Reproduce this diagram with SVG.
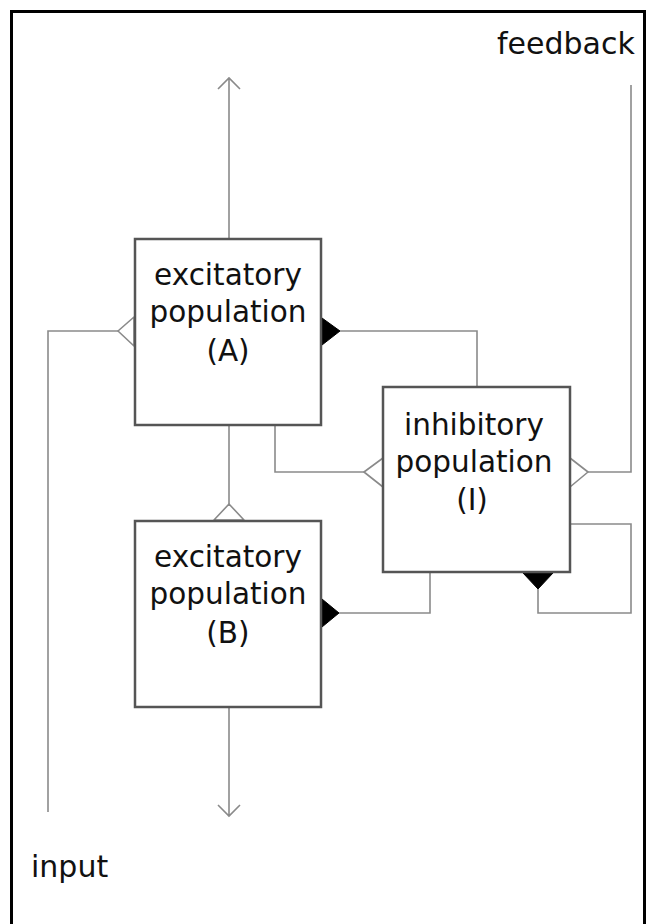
<svg xmlns="http://www.w3.org/2000/svg" width="649" height="924" viewBox="0 0 649 924">
<style>
.box{fill:#fff;stroke:#555;stroke-width:2.5}
.wire{fill:none;stroke:#8a8a8a;stroke-width:1.6}
.open{fill:#fff;stroke:#8a8a8a;stroke-width:1.6;stroke-linejoin:round}
.fill{fill:#000;stroke:#000;stroke-width:1}
.lbl{font-family:"DejaVu Sans",sans-serif;font-size:29.5px;fill:#111;text-anchor:middle}
.tag{font-family:"DejaVu Sans",sans-serif;font-size:30px;fill:#111}
</style>
<rect x="0" y="0" width="649" height="924" fill="#fff"/>
<rect x="11.5" y="11.5" width="633" height="930" fill="none" stroke="#000" stroke-width="3"/>
<g id="connectors">
<path class="wire" d="M229,238 V79 M218,89 L229,78 L240,89"/>
<path class="wire" d="M229,707 V816 M218,805 L229,816 L240,805"/>
<path class="wire" d="M48,812 V331 H118"/>
<polygon class="open" points="134,317 134,346 118,331"/>
<path class="wire" d="M340,331 H477 V387"/>
<polygon class="fill" points="322,318 322,345 340,331"/>
<path class="wire" d="M275,425 V472 H364"/>
<polygon class="open" points="383,458 383,487 364,472"/>
<path class="wire" d="M229,425 V504"/>
<polygon class="open" points="214,520 244,520 229,504"/>
<path class="wire" d="M588,472 H631 V85"/>
<polygon class="open" points="570,458 570,487 588,472"/>
<path class="wire" d="M339,613 H430 V572"/>
<polygon class="fill" points="322,599 322,627 339,613"/>
<path class="wire" d="M538,589 V613 H631 V524 H570"/>
<polygon class="fill" points="523,573 553,573 538,589"/>
</g>
<g id="nodeA">
<rect class="box" x="135" y="239" width="186" height="186"/>
<text class="lbl" x="228" y="285">excitatory</text>
<text class="lbl" x="228" y="322">population</text>
<text class="lbl" x="228" y="361">(A)</text>
</g>
<g id="nodeB">
<rect class="box" x="135" y="521" width="186" height="186"/>
<text class="lbl" x="228" y="567">excitatory</text>
<text class="lbl" x="228" y="604">population</text>
<text class="lbl" x="228" y="643">(B)</text>
</g>
<g id="nodeI">
<rect class="box" x="383" y="387" width="187" height="185"/>
<text class="lbl" x="474" y="435">inhibitory</text>
<text class="lbl" x="474" y="472">population</text>
<text class="lbl" x="472" y="510">(I)</text>
</g>
<g id="labels">
<text class="tag" x="497" y="54">feedback</text>
<text class="tag" x="31" y="877">input</text>
</g>
</svg>
